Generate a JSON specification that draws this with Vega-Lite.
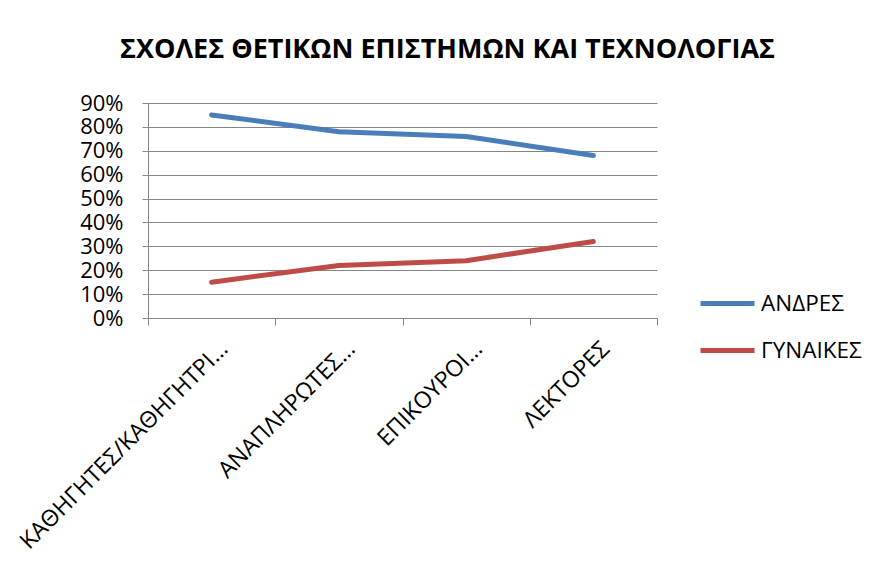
{
  "$schema": "https://vega.github.io/schema/vega-lite/v6.json",
  "width": 509,
  "height": 215,
  "autosize": {"type": "none"},
  "padding": {"left": 148, "top": 103, "right": 219, "bottom": 255},
  "background": "white",
  "config": {
    "font": "Open Sans",
    "view": {"stroke": null}
  },
  "title": {
    "text": "ΣΧΟΛΕΣ ΘΕΤΙΚΩΝ ΕΠΙΣΤΗΜΩΝ ΚΑΙ ΤΕΧΝΟΛΟΓΙΑΣ",
    "font": "Open Sans",
    "fontSize": 27,
    "fontWeight": "bold",
    "color": "black",
    "anchor": "middle",
    "frame": "group",
    "dx": 45,
    "offset": 28
  },
  "data": {
    "values": [
      {"category": "ΚΑΘΗΓΗΤΕΣ/ΚΑΘΗΓΗΤΡΙ…", "order": 1, "series": "ΑΝΔΡΕΣ", "value": 0.85},
      {"category": "ΑΝΑΠΛΗΡΩΤΕΣ…", "order": 2, "series": "ΑΝΔΡΕΣ", "value": 0.78},
      {"category": "ΕΠΙΚΟΥΡΟΙ…", "order": 3, "series": "ΑΝΔΡΕΣ", "value": 0.76},
      {"category": "ΛΕΚΤΟΡΕΣ", "order": 4, "series": "ΑΝΔΡΕΣ", "value": 0.68},
      {"category": "ΚΑΘΗΓΗΤΕΣ/ΚΑΘΗΓΗΤΡΙ…", "order": 1, "series": "ΓΥΝΑΙΚΕΣ", "value": 0.15},
      {"category": "ΑΝΑΠΛΗΡΩΤΕΣ…", "order": 2, "series": "ΓΥΝΑΙΚΕΣ", "value": 0.22},
      {"category": "ΕΠΙΚΟΥΡΟΙ…", "order": 3, "series": "ΓΥΝΑΙΚΕΣ", "value": 0.24},
      {"category": "ΛΕΚΤΟΡΕΣ", "order": 4, "series": "ΓΥΝΑΙΚΕΣ", "value": 0.32}
    ]
  },
  "mark": {"type": "line", "strokeWidth": 5, "strokeCap": "round", "strokeJoin": "round"},
  "encoding": {
    "x": {
      "field": "category",
      "type": "nominal",
      "sort": ["ΚΑΘΗΓΗΤΕΣ/ΚΑΘΗΓΗΤΡΙ…", "ΑΝΑΠΛΗΡΩΤΕΣ…", "ΕΠΙΚΟΥΡΟΙ…", "ΛΕΚΤΟΡΕΣ"],
      "scale": {"type": "band", "paddingInner": 0, "paddingOuter": 0},
      "axis": {
        "title": null,
        "tickBand": "extent",
        "labelAngle": -45,
        "labelAlign": "right",
        "labelBaseline": "middle",
        "labelOffset": 12,
        "labelPadding": 20,
        "labelFontSize": 23,
        "labelColor": "black",
        "labelLimit": 400,
        "domainColor": "#868686",
        "tickColor": "#868686",
        "tickSize": 7,
        "grid": false
      }
    },
    "y": {
      "field": "value",
      "type": "quantitative",
      "scale": {"domain": [0, 0.9], "nice": false},
      "axis": {
        "title": null,
        "format": ".0%",
        "values": [0, 0.1, 0.2, 0.3, 0.4, 0.5, 0.6, 0.7, 0.8, 0.9],
        "labelFontSize": 22,
        "labelColor": "black",
        "labelPadding": 19,
        "domainColor": "#868686",
        "tickColor": "#868686",
        "tickSize": 6,
        "gridColor": "#868686",
        "gridWidth": 1
      }
    },
    "color": {
      "field": "series",
      "type": "nominal",
      "scale": {"domain": ["ΑΝΔΡΕΣ", "ΓΥΝΑΙΚΕΣ"], "range": ["#4A7EBB", "#BE4B48"]},
      "legend": {
        "title": null,
        "orient": "none",
        "legendX": 550,
        "legendY": 171,
        "symbolType": "stroke",
        "symbolSize": 2916,
        "symbolStrokeWidth": 5,
        "labelFontSize": 22.5,
        "labelColor": "black",
        "labelOffset": 4,
        "rowPadding": 6,
        "labelLimit": 300
      }
    },
    "order": {"field": "order"}
  }
}
